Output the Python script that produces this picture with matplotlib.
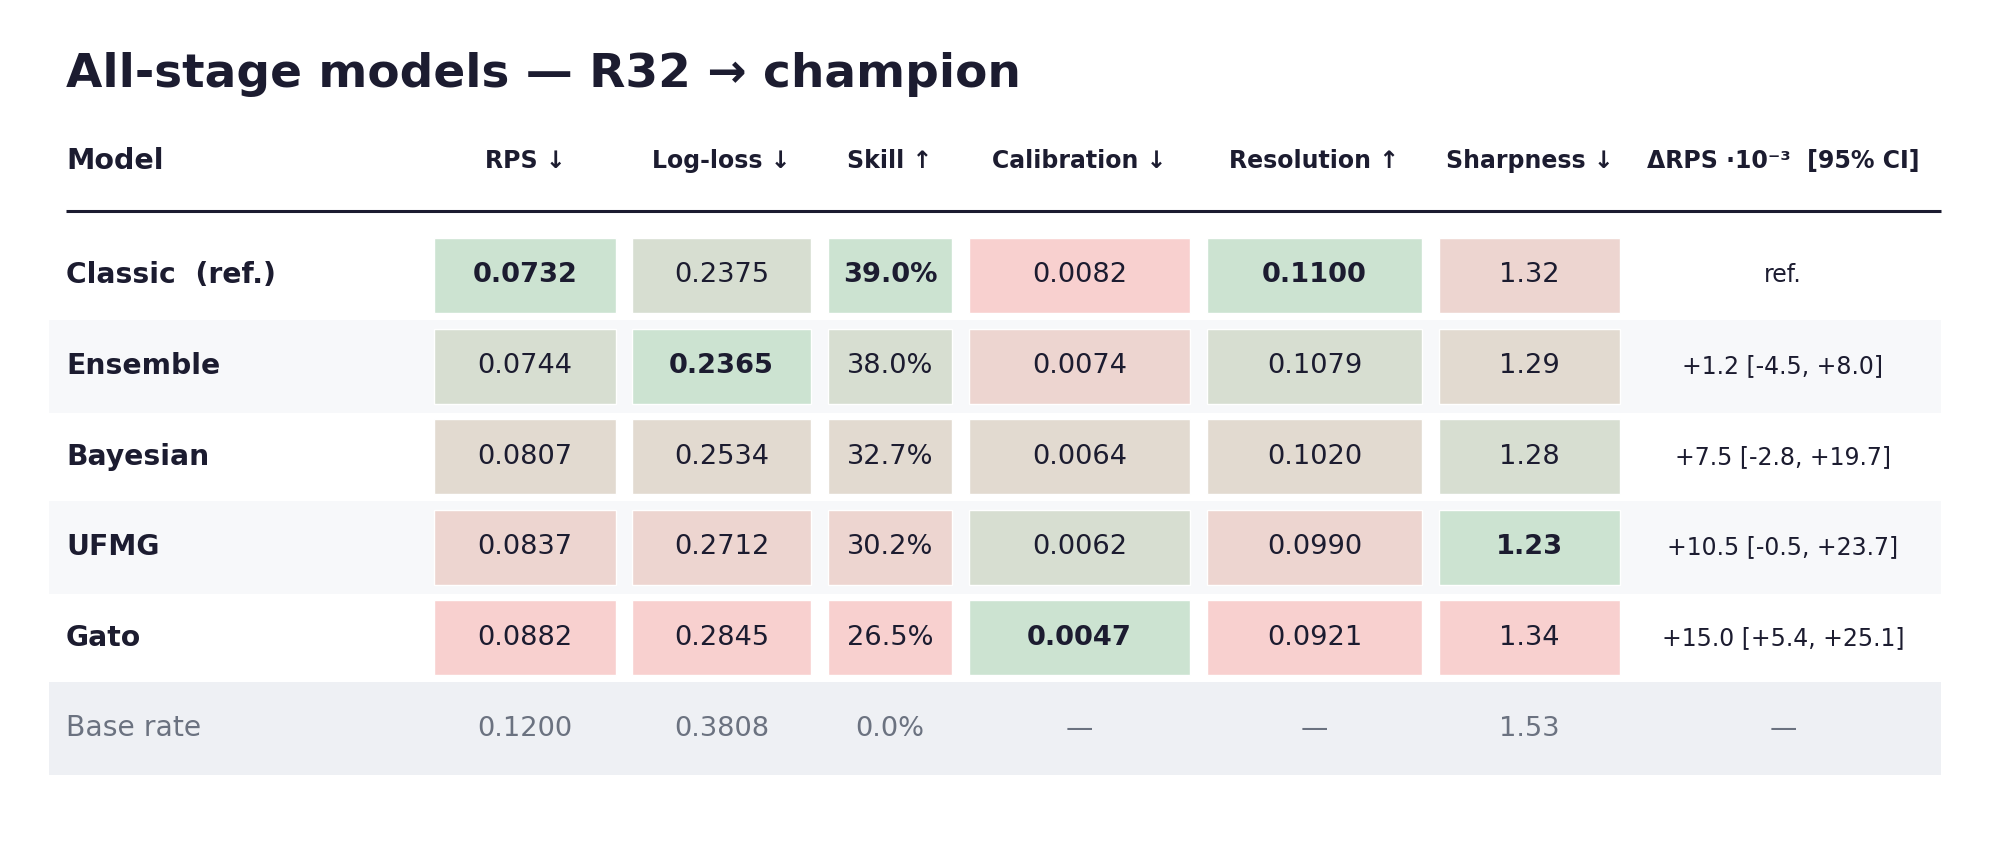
import numpy as np
import matplotlib
matplotlib.use("Agg")
import matplotlib.pyplot as plt
from matplotlib.colors import to_rgb
from matplotlib.patches import Rectangle

# --- table data ---
models = ["Classic  (ref.)", "Ensemble", "Bayesian", "UFMG", "Gato"]
rps = [0.0732, 0.0744, 0.0807, 0.0837, 0.0882]
logloss = [0.2375, 0.2365, 0.2534, 0.2712, 0.2845]
skill = [39.0, 38.0, 32.7, 30.2, 26.5]
calibration = [0.0082, 0.0074, 0.0064, 0.0062, 0.0047]
resolution = [0.1100, 0.1079, 0.1020, 0.0990, 0.0921]
sharpness = [1.32, 1.29, 1.28, 1.23, 1.34]
delta_rps = [None, 1.2, 7.5, 10.5, 15.0]
delta_lo = [None, -4.5, -2.8, -0.5, 5.4]
delta_hi = [None, 8.0, 19.7, 23.7, 25.1]

base_label = "Base rate"
base_values = ["0.1200", "0.3808", "0.0%", "—", "—", "1.53", "—"]

headers = ["RPS ↓", "Log-loss ↓", "Skill ↑", "Calibration ↓",
           "Resolution ↑", "Sharpness ↓", "ΔRPS ·10⁻³  [95% CI]"]

# column values, format, higher-is-better flag
metric_cols = [
    (rps, "{:.4f}", False),
    (logloss, "{:.4f}", False),
    (skill, "{:.1f}%", True),
    (calibration, "{:.4f}", False),
    (resolution, "{:.4f}", True),
    (sharpness, "{:.2f}", False),
]

# --- layout (pixels) ---
W, H = 1999, 856
col_x = [525, 721.5, 890, 1079.5, 1314.5, 1529.5, 1783]
col_w = [182, 179, 124, 221, 215, 181]
row_y0, row_step = 275.5, 90.6
box_h = 75
left, right = 66, 1941

ink = "#1c1c30"
muted = "#6b7280"
good = np.array(to_rgb("#cce3d1"))
bad = np.array(to_rgb("#f8d0cf"))

fig = plt.figure(figsize=(W / 100, H / 100), dpi=100)
ax = fig.add_axes([0, 0, 1, 1])
ax.set_xlim(0, W)
ax.set_ylim(H, 0)
ax.axis("off")

# title
ax.text(left, 87, "All-stage models — R32 → champion", fontsize=33.8,
        fontweight="bold", color=ink, ha="left", va="baseline")

# header
ax.text(left, 161, "Model", fontsize=20.5, fontweight="bold", color=ink,
        ha="left", va="center")
for x, h in zip(col_x, headers):
    ax.text(x, 161, h, fontsize=17, fontweight="bold", color=ink,
            ha="center", va="center")
ax.plot([left, right], [211, 211], color=ink, lw=2.2, solid_capstyle="butt")

n = len(models)
for i in range(n + 1):
    y = row_y0 + i * row_step
    if i == n:
        ax.add_patch(Rectangle((49, y - 46.5), right - 49, 93,
                               facecolor="#eef0f4", edgecolor="none", zorder=0))
    elif i % 2 == 1:
        ax.add_patch(Rectangle((49, y - 46.5), right - 49, 93,
                               facecolor="#f7f8fa", edgecolor="none", zorder=0))

# model rows
for i, name in enumerate(models):
    y = row_y0 + i * row_step
    ax.text(left, y, name, fontsize=20.3, fontweight="bold", color=ink,
            ha="left", va="center")

for c, (vals, fmt, higher) in enumerate(metric_cols):
    arr = np.array(vals)
    order = np.argsort(-arr if higher else arr)
    rank = np.empty(len(arr), dtype=int)
    rank[order] = np.arange(len(arr))
    for i, v in enumerate(vals):
        y = row_y0 + i * row_step
        t = rank[i] / (len(arr) - 1)
        fc = good + (bad - good) * t
        ax.add_patch(Rectangle((col_x[c] - col_w[c] / 2, y - box_h / 2),
                               col_w[c], box_h, facecolor=fc,
                               edgecolor="white", lw=1, zorder=1))
        ax.text(col_x[c], y, fmt.format(v), fontsize=19.6, color=ink,
                fontweight="bold" if rank[i] == 0 else "normal",
                ha="center", va="center", zorder=2)

# delta RPS column
for i, d in enumerate(delta_rps):
    y = row_y0 + i * row_step
    if d is None:
        s = "ref."
    else:
        s = f"{d:+.1f} [{delta_lo[i]:+.1f}, {delta_hi[i]:+.1f}]"
    ax.text(col_x[6], y, s, fontsize=17, color=ink, ha="center", va="center")

# base rate row
y = row_y0 + n * row_step
ax.text(left, y, base_label, fontsize=20.3, color=muted, ha="left", va="center")
for x, s in zip(col_x, base_values):
    ax.text(x, y, s, fontsize=19.6, color=muted, ha="center", va="center")

fig.savefig("out.png", dpi=100)
plt.close(fig)
